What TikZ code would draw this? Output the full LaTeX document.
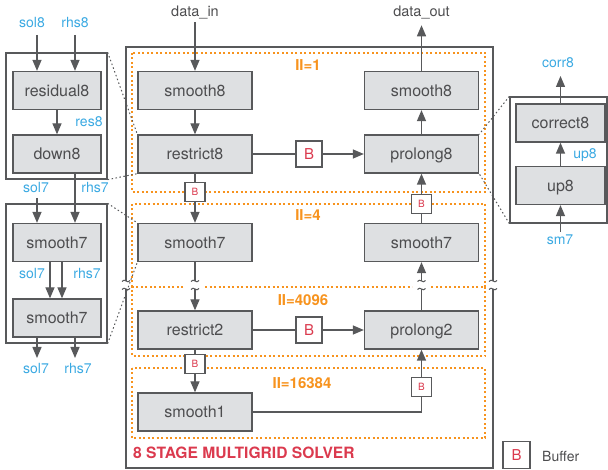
\documentclass[tikz,border=0pt]{standalone}
\usepackage{fontspec}
\setmainfont{TeX Gyre Heros}
\usetikzlibrary{arrows.meta}

\definecolor{boxgray}{HTML}{DEE0E2}
\definecolor{linegray}{HTML}{58595B}
\definecolor{txtgray}{HTML}{4D4D4F}
\definecolor{lblblue}{HTML}{3AA9E2}
\definecolor{iiorange}{HTML}{F7931E}
\definecolor{bufred}{HTML}{DB3A4E}

\begin{document}
\begin{tikzpicture}[x=1pt,y=-1pt,
  >={Triangle[length=11pt,width=9pt]},
  stage/.style={draw=linegray,fill=boxgray,line width=1.3pt,minimum width=114pt,minimum height=38pt,
    inner sep=0pt,text=txtgray,font=\fontsize{16}{18}\selectfont,text height=11.5pt,text depth=0pt},
  sub/.style={stage,minimum width=88pt},
  buf/.style={draw=linegray,fill=white,line width=1.2pt,minimum size=26pt,inner sep=0pt,
    text=bufred,font=\fontsize{15}{17}\selectfont},
  sbuf/.style={buf,minimum width=20pt,minimum height=19pt,font=\fontsize{10}{12}\selectfont},
  panel/.style={draw=linegray,line width=1.3pt,inner sep=0pt},
  region/.style={draw=iiorange,line width=1.3pt,dash pattern=on 2pt off 2.5pt},
  ii/.style={text=iiorange,font=\bfseries\fontsize{15}{17}\selectfont},
  sig/.style={text=lblblue,font=\fontsize{14}{16}\selectfont,inner sep=1pt},
  io/.style={text=txtgray,font=\fontsize{14.5}{16}\selectfont,inner sep=2.5pt},
  wire/.style={draw=linegray,line width=1.3pt},
  zoomline/.style={draw=linegray,line width=1pt,dash pattern=on 1.5pt off 2.5pt},
  brk/.pic={\draw[linegray,line width=1pt] (-4,0.5) .. controls (-1.5,-3.5) and (1.5,3.5) .. (4,-0.5);}
]
\useasboundingbox (0,0) rectangle (608,470);

\draw[wire] (126,281) -- (126,47) -- (493,47) -- (493,281);
\draw[wire] (126,289) -- (126,468) -- (493,468) -- (493,289);
\pic at (126,281) {brk};
\pic at (126,289) {brk};
\pic at (493,281) {brk};
\pic at (493,289) {brk};

\draw[region] (132,53) rectangle (485,192);
\draw[region] (132,287) -- (132,204) -- (485,204) -- (485,287);
\draw[region] (183,287) -- (132,287) -- (132,356) -- (485,356) -- (485,287) -- (430,287);
\draw[region] (205,287) -- (412,287);
\draw[region] (132,368) rectangle (485,438);

\node[ii] (ii1) at (308,65) {II=1};
\node[ii] (ii4) at (308,215) {II=4};
\node[ii] (ii4096) at (303,300) {II=4096};
\node[ii] (ii16384) at (302,383) {II=16384};

\node[panel,minimum width=101pt,minimum height=126pt] (l1) at (56.5,116) {};
\node[panel,minimum width=101pt,minimum height=139pt] (l2) at (56.5,273.5) {};
\node[panel,minimum width=97pt,minimum height=126pt] (rb) at (558.5,160) {};

\node[stage] (s8a) at (195,90.5) {smooth8};
\node[stage] (r8) at (195,154) {restrict8};
\node[stage] (s8b) at (421.5,90.5) {smooth8};
\node[stage] (p8) at (421.5,154) {prolong8};
\node[stage] (s7a) at (195,242.5) {smooth7};
\node[stage] (s7b) at (421.5,242.5) {smooth7};
\node[stage] (r2) at (195,330) {restrict2};
\node[stage] (p2) at (421.5,330) {prolong2};
\node[stage] (s1) at (195,412) {smooth1};

\draw[zoomline] (l1.north east) -- (r8.north west);
\draw[zoomline] (l1.south east) -- (r8.south west);
\draw[zoomline] (l2.north east) -- (s7a.north west);
\draw[zoomline] (l2.south east) -- (s7a.south west);
\draw[zoomline] (rb.north west) -- (p8.north east);
\draw[zoomline] (rb.south west) -- (p8.south east);

\node[buf] (b1) at (309,154) {B};
\node[buf] (b2) at (309,330) {B};
\node[sbuf] (sb1) at (195,192) {B};
\node[sbuf] (sb2) at (421.5,204) {B};
\node[sbuf] (sb3) at (195,364) {B};
\node[sbuf] (sb4) at (421.5,387) {B};

\node[io] (din) at (195,13) {data\_in};
\node[io] (dout) at (421.5,13) {data\_out};

\draw[wire,->] (din) -- (s8a);
\draw[wire,->] (s8a) -- (r8);
\draw[wire] (r8) -- (b1);
\draw[wire,->] (b1) -- (p8);
\draw[wire] (r8) -- (sb1);
\draw[wire,->] (sb1) -- (s7a);
\coordinate (k1a) at (195,281);
\coordinate (k1b) at (195,289);
\draw[wire] (s7a) -- (k1a);
\draw[wire,->] (k1b) -- (r2);
\pic at (k1a) {brk};
\pic at (k1b) {brk};
\draw[wire] (r2) -- (b2);
\draw[wire,->] (b2) -- (p2);
\draw[wire] (r2) -- (sb3);
\draw[wire,->] (sb3) -- (s1);
\draw[wire] (s1) -| (sb4);
\draw[wire,->] (sb4) -- (p2);
\coordinate (k2a) at (421.5,289);
\coordinate (k2b) at (421.5,281);
\draw[wire] (p2) -- (k2a);
\draw[wire,->] (k2b) -- (s7b);
\pic at (k2a) {brk};
\pic at (k2b) {brk};
\draw[wire] (s7b) -- (sb2);
\draw[wire,->] (sb2) -- (p8);
\draw[wire,->] (p8) -- (s8b);
\draw[wire,->,shorten >=3pt] (s8b) -- (dout);

\node[sub] (res) at (57,90.5) {residual8};
\node[sub] (dn) at (57,154) {down8};
\node[sub] (sa) at (57,242.5) {smooth7};
\node[sub] (sb) at (57,318) {smooth7};

\node[sig] (lsol8) at (32,23) {sol8};
\node[sig] (lrhs8) at (75,23) {rhs8};
\node[sig] (lres8) at (89,122) {res8};
\node[sig] (lsol7a) at (36,188) {sol7};
\node[sig] (lrhs7a) at (95,188) {rhs7};
\node[sig] (lsol7b) at (32,274) {sol7};
\node[sig] (lrhs7b) at (87,274) {rhs7};
\node[sig] (lsol7c) at (36,369) {sol7};
\node[sig] (lrhs7c) at (78,369) {rhs7};

\coordinate (sol8in) at (37,35);
\coordinate (rhs8in) at (75,35);
\coordinate (sol7in) at (37,198);
\coordinate (sol7out) at (37,358);
\coordinate (rhs7out) at (75,358);
\draw[wire,->] (sol8in) -- (sol8in |- res.north);
\draw[wire,->] (rhs8in) -- (rhs8in |- res.north);
\draw[wire,->] (res) -- (dn);
\draw[wire,->] (dn.south -| rhs8in) -- (sa.north -| rhs8in);
\draw[wire,->] (sol7in) -- (sol7in |- sa.north);
\draw[wire,->] ([xshift=-7pt]sa.south) -- ([xshift=-7pt]sb.north);
\draw[wire,->] ([xshift=5pt]sa.south) -- ([xshift=5pt]sb.north);
\draw[wire,->] (sol7out |- sb.south) -- (sol7out);
\draw[wire,->] (rhs7out |- sb.south) -- (rhs7out);

\node[sub,minimum width=89pt] (cor) at (560.5,123) {correct8};
\node[sub,minimum width=89pt] (up) at (560.5,185.5) {up8};
\node[sig] (lcorr8) at (558,63) {corr8};
\node[sig] (lup8) at (585,155) {up8};
\node[sig] (lsm7) at (560,240) {sm7};
\coordinate (corrout) at (560.5,76);
\coordinate (sm7in) at (560.5,232);
\draw[wire,->] (cor) -- (corrout);
\draw[wire,->] (up) -- (cor);
\draw[wire,->] (sm7in) -- (up);

\node[anchor=west,text=bufred,font=\bfseries\fontsize{15.6}{18}\selectfont,inner sep=0pt] (title) at (133,453) {8 STAGE MULTIGRID SOLVER};
\node[buf,minimum size=27pt] (lgb) at (516.5,455) {B};
\node[io,anchor=west,font=\fontsize{14}{16}\selectfont,inner sep=0pt] (lgt) at (542,456) {Buffer};

\end{tikzpicture}
\end{document}
